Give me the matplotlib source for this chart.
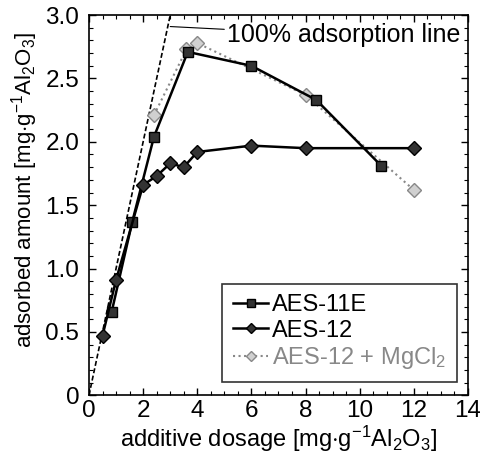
import matplotlib
matplotlib.use("Agg")
import matplotlib.pyplot as plt
from matplotlib.ticker import MultipleLocator

plt.rcParams['font.family'] = ['Liberation Sans', 'DejaVu Sans']
plt.rcParams['mathtext.fontset'] = 'custom'
plt.rcParams['mathtext.rm'] = 'Liberation Sans'
plt.rcParams['mathtext.it'] = 'Liberation Sans'

# data
x_11e = [0.84, 1.6, 2.4, 3.65, 6.0, 8.4, 10.8]
y_11e = [0.66, 1.37, 2.04, 2.71, 2.60, 2.33, 1.81]
x_12 = [0.5, 1.0, 2.0, 2.5, 3.0, 3.5, 4.0, 6.0, 8.0, 12.0]
y_12 = [0.47, 0.91, 1.66, 1.73, 1.83, 1.80, 1.92, 1.97, 1.95, 1.95]
x_mg = [2.4, 3.6, 4.0, 8.0, 12.0]
y_mg = [2.21, 2.73, 2.78, 2.37, 1.62]
x_line = [0, 3.0]
y_line = [0, 3.0]

fig = plt.figure(figsize=(4.81, 4.59), dpi=100)
ax = fig.add_axes([0.185, 0.139, 0.788, 0.828])

ax.plot(x_line, y_line, ls=(0, (3, 1.5)), color='black', lw=1.2)
ax.plot(x_mg, y_mg, ls=':', color='#888888', lw=1.5, marker='D', ms=7,
        mfc='#d0d0d0', mec='#888888', mew=1, label=r'AES-12 + MgCl$_2$')
ax.plot(x_11e, y_11e, ls='-', color='black', lw=1.8, marker='s', ms=7,
        mfc='#333333', mec='black', mew=1, label='AES-11E')
ax.plot(x_12, y_12, ls='-', color='black', lw=1.8, marker='D', ms=7,
        mfc='#333333', mec='black', mew=1, label='AES-12')

ax.annotate('100% adsorption line', xy=(3.0, 2.91), xytext=(5.1, 2.84),
            fontsize=18, va='center', ha='left',
            arrowprops=dict(arrowstyle='-', color='black', lw=0.8, shrinkA=0, shrinkB=0))

ax.set_xlim(0, 14)
ax.set_ylim(0, 3.0)
ax.xaxis.set_major_locator(MultipleLocator(2))
ax.xaxis.set_minor_locator(MultipleLocator(0.5))
ax.yaxis.set_major_locator(MultipleLocator(0.5))
ax.yaxis.set_minor_locator(MultipleLocator(0.1))
ax.set_yticks([0, 0.5, 1.0, 1.5, 2.0, 2.5, 3.0])
ax.set_yticklabels(['0', '0.5', '1.0', '1.5', '2.0', '2.5', '3.0'])
ax.tick_params(which='both', direction='in', top=True, right=True, labelsize=17.5)
ax.tick_params(axis='y', pad=7)
ax.tick_params(which='major', length=5, width=1)
ax.tick_params(which='minor', length=3, width=0.8)
for s in ax.spines.values():
    s.set_linewidth(1.2)

ax.set_xlabel(r'additive dosage [mg$\cdot$g$^{-1}$Al$_2$O$_3$]', fontsize=17, labelpad=1)
ax.set_ylabel(r'adsorbed amount [mg$\cdot$g$^{-1}$Al$_2$O$_3$]', fontsize=16)
ax.yaxis.set_label_coords(-0.128, 0.54)

h, l = ax.get_legend_handles_labels()
order = [1, 2, 0]
leg = ax.legend([h[i] for i in order], [l[i] for i in order], loc='lower right',
                bbox_to_anchor=(0.97, 0.035), fontsize=17, frameon=True, fancybox=False,
                edgecolor='black', handlelength=1.5, handletextpad=0.15, borderpad=0.45,
                labelspacing=0.15, borderaxespad=0, markerscale=0.8)
leg.get_frame().set_linewidth(1.2)
leg.get_texts()[2].set_color('#888888')

fig.savefig('out.png', dpi=100)
